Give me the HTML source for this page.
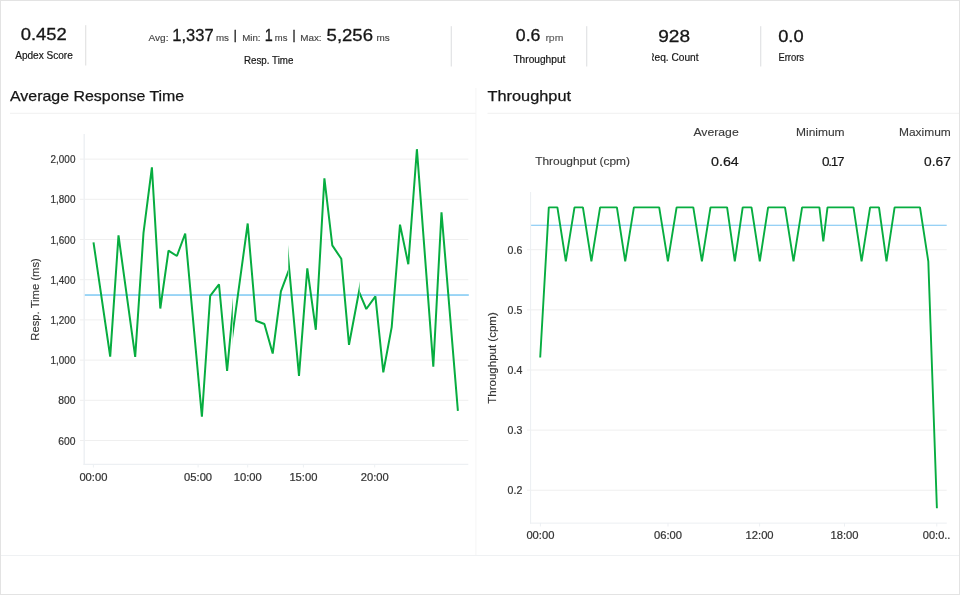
<!DOCTYPE html>
<html lang="en"><head><meta charset="utf-8"><title>Performance Overview</title>
<style>
html,body{margin:0;padding:0;background:#fff;}
body{width:960px;height:595px;overflow:hidden;font-family:"Liberation Sans", Arial, sans-serif;}
svg{display:block;font-family:"Liberation Sans", Arial, sans-serif;}
</style></head><body>
<svg width="960" height="595" viewBox="0 0 960 595">
<rect x="0" y="0" width="960" height="595" fill="#fff"/>
<rect x="0.5" y="0.5" width="959" height="594" fill="none" stroke="#e3e3e3" stroke-width="1"/>
<rect x="85.25" y="25.2" width="1" height="40.3" fill="#dddddd"/>
<rect x="450.75" y="26.2" width="1" height="40.3" fill="#dcdde0"/>
<rect x="586.25" y="26.2" width="1" height="40.3" fill="#dcdde0"/>
<rect x="760.25" y="26.2" width="1" height="40.3" fill="#dcdde0"/>
<rect x="10" y="112.8" width="466" height="1" fill="#f0f0f0"/>
<rect x="487.5" y="112.8" width="471.5" height="1" fill="#f0f0f0"/>
<rect x="475.4" y="88" width="1" height="467.5" fill="#f5f5f5"/>
<rect x="1" y="555" width="958" height="1" fill="#eff1f3"/>
<text x="20.80" y="40.20" font-size="16.5" fill="#161616" stroke="#161616" stroke-width="0.3" textLength="46.00" lengthAdjust="spacingAndGlyphs">0.452</text>
<text x="15.20" y="58.80" font-size="10.8" fill="#161616" stroke="#161616" stroke-width="0.2" textLength="57.60" lengthAdjust="spacingAndGlyphs">Apdex Score</text>
<text x="148.50" y="41.40" font-size="9.8" fill="#444444" stroke="#444444" stroke-width="0.15" textLength="20.00" lengthAdjust="spacingAndGlyphs">Avg:</text>
<text x="172.30" y="41.45" font-size="17.1" fill="#161616" stroke="#161616" stroke-width="0.3" textLength="41.30" lengthAdjust="spacingAndGlyphs">1,337</text>
<text x="216.00" y="41.40" font-size="9.8" fill="#444444" stroke="#444444" stroke-width="0.15" textLength="13.00" lengthAdjust="spacingAndGlyphs">ms</text>
<text x="235.15" y="39.05" font-size="13.6" fill="#2a2a2a" stroke="#2a2a2a" stroke-width="0.3" text-anchor="middle">|</text>
<text x="242.20" y="41.40" font-size="9.8" fill="#444444" stroke="#444444" stroke-width="0.15" textLength="18.30" lengthAdjust="spacingAndGlyphs">Min:</text>
<text x="264.80" y="41.45" font-size="17.1" fill="#161616" stroke="#161616" stroke-width="0.3" textLength="8.00" lengthAdjust="spacingAndGlyphs">1</text>
<text x="274.80" y="41.40" font-size="9.8" fill="#444444" stroke="#444444" stroke-width="0.15" textLength="12.60" lengthAdjust="spacingAndGlyphs">ms</text>
<text x="294.1" y="39.05" font-size="13.6" fill="#2a2a2a" stroke="#2a2a2a" stroke-width="0.3" text-anchor="middle">|</text>
<text x="300.20" y="41.40" font-size="9.8" fill="#444444" stroke="#444444" stroke-width="0.15" textLength="21.40" lengthAdjust="spacingAndGlyphs">Max:</text>
<text x="326.60" y="41.45" font-size="17.1" fill="#161616" stroke="#161616" stroke-width="0.3" textLength="46.40" lengthAdjust="spacingAndGlyphs">5,256</text>
<text x="376.40" y="41.40" font-size="9.8" fill="#444444" stroke="#444444" stroke-width="0.15" textLength="13.20" lengthAdjust="spacingAndGlyphs">ms</text>
<text x="244.00" y="63.50" font-size="10.6" fill="#161616" stroke="#161616" stroke-width="0.2" textLength="49.40" lengthAdjust="spacingAndGlyphs">Resp. Time</text>
<text x="515.80" y="41.40" font-size="17.2" fill="#161616" stroke="#161616" stroke-width="0.3" textLength="24.70" lengthAdjust="spacingAndGlyphs">0.6</text>
<text x="545.40" y="41.30" font-size="9.2" fill="#666666" stroke="#666666" stroke-width="0.2" textLength="18.00" lengthAdjust="spacingAndGlyphs">rpm</text>
<text x="513.40" y="63.30" font-size="10" fill="#161616" stroke="#161616" stroke-width="0.2" textLength="52.00" lengthAdjust="spacingAndGlyphs">Throughput</text>
<text x="658.20" y="41.90" font-size="17.2" fill="#161616" stroke="#161616" stroke-width="0.3" textLength="31.80" lengthAdjust="spacingAndGlyphs">928</text>
<clipPath id="cR"><rect x="652" y="45" width="60" height="25"/></clipPath>
<g clip-path="url(#cR)"><text x="647.20" y="60.60" font-size="10.8" fill="#161616" stroke="#161616" stroke-width="0.2" textLength="51.40" lengthAdjust="spacingAndGlyphs">Req. Count</text></g>
<text x="778.20" y="41.90" font-size="17.2" fill="#161616" stroke="#161616" stroke-width="0.3" textLength="25.40" lengthAdjust="spacingAndGlyphs">0.0</text>
<text x="778.40" y="60.70" font-size="10.8" fill="#161616" stroke="#161616" stroke-width="0.2" textLength="25.70" lengthAdjust="spacingAndGlyphs">Errors</text>
<text x="10.00" y="101.00" font-size="15" fill="#161616" stroke="#161616" stroke-width="0.25" textLength="174.20" lengthAdjust="spacingAndGlyphs">Average Response Time</text>
<text x="487.60" y="101.00" font-size="15" fill="#161616" stroke="#161616" stroke-width="0.25" textLength="83.40" lengthAdjust="spacingAndGlyphs">Throughput</text>
<text x="693.40" y="136.30" font-size="11.5" fill="#3a3a3a" stroke="#3a3a3a" stroke-width="0.12" textLength="45.30" lengthAdjust="spacingAndGlyphs">Average</text>
<text x="796.00" y="136.30" font-size="11.5" fill="#3a3a3a" stroke="#3a3a3a" stroke-width="0.12" textLength="48.60" lengthAdjust="spacingAndGlyphs">Minimum</text>
<text x="899.00" y="136.30" font-size="11.5" fill="#3a3a3a" stroke="#3a3a3a" stroke-width="0.12" textLength="51.80" lengthAdjust="spacingAndGlyphs">Maximum</text>
<text x="535.20" y="164.50" font-size="11.8" fill="#3a3a3a" stroke="#3a3a3a" stroke-width="0.15" textLength="94.80" lengthAdjust="spacingAndGlyphs">Throughput (cpm)</text>
<text x="711.00" y="166.20" font-size="13.5" fill="#161616" stroke="#161616" stroke-width="0.2" textLength="27.80" lengthAdjust="spacingAndGlyphs">0.64</text>
<text x="822.00" y="166.20" font-size="13.5" fill="#161616" stroke="#161616" stroke-width="0.2" textLength="22.60" lengthAdjust="spacing">0.17</text>
<text x="924.00" y="166.20" font-size="13.5" fill="#161616" stroke="#161616" stroke-width="0.2" textLength="26.80" lengthAdjust="spacingAndGlyphs">0.67</text>
<rect x="80" y="158.60" width="388.3" height="1" fill="#efefef"/>
<text x="50.60" y="163.10" font-size="11.3" fill="#333333" stroke="#333333" stroke-width="0.22" textLength="24.80" lengthAdjust="spacingAndGlyphs">2,000</text>
<rect x="80" y="198.80" width="388.3" height="1" fill="#efefef"/>
<text x="50.60" y="203.30" font-size="11.3" fill="#333333" stroke="#333333" stroke-width="0.22" textLength="24.80" lengthAdjust="spacingAndGlyphs">1,800</text>
<rect x="80" y="239.00" width="388.3" height="1" fill="#efefef"/>
<text x="50.60" y="243.50" font-size="11.3" fill="#333333" stroke="#333333" stroke-width="0.22" textLength="24.80" lengthAdjust="spacingAndGlyphs">1,600</text>
<rect x="80" y="279.20" width="388.3" height="1" fill="#efefef"/>
<text x="50.60" y="283.70" font-size="11.3" fill="#333333" stroke="#333333" stroke-width="0.22" textLength="24.80" lengthAdjust="spacingAndGlyphs">1,400</text>
<rect x="80" y="319.40" width="388.3" height="1" fill="#efefef"/>
<text x="50.60" y="323.90" font-size="11.3" fill="#333333" stroke="#333333" stroke-width="0.22" textLength="24.80" lengthAdjust="spacingAndGlyphs">1,200</text>
<rect x="80" y="359.60" width="388.3" height="1" fill="#efefef"/>
<text x="50.60" y="364.10" font-size="11.3" fill="#333333" stroke="#333333" stroke-width="0.22" textLength="24.80" lengthAdjust="spacingAndGlyphs">1,000</text>
<rect x="80" y="399.80" width="388.3" height="1" fill="#efefef"/>
<text x="58.20" y="404.30" font-size="11.3" fill="#333333" stroke="#333333" stroke-width="0.22" textLength="17.20" lengthAdjust="spacingAndGlyphs">800</text>
<rect x="80" y="440.00" width="388.3" height="1" fill="#efefef"/>
<text x="58.20" y="444.50" font-size="11.3" fill="#333333" stroke="#333333" stroke-width="0.22" textLength="17.20" lengthAdjust="spacingAndGlyphs">600</text>
<rect x="83.5" y="134" width="1.4" height="331" fill="#edf0f3"/>
<rect x="83.5" y="463.75" width="384.8" height="1.2" fill="#edf0f3"/>
<rect x="92.90" y="464" width="1" height="3.5" fill="#edf0f3"/>
<text x="79.40" y="481.10" font-size="11.3" fill="#333333" stroke="#333333" stroke-width="0.22" textLength="28.00" lengthAdjust="spacingAndGlyphs">00:00</text>
<rect x="197.60" y="464" width="1" height="3.5" fill="#edf0f3"/>
<text x="184.10" y="481.10" font-size="11.3" fill="#333333" stroke="#333333" stroke-width="0.22" textLength="28.00" lengthAdjust="spacingAndGlyphs">05:00</text>
<rect x="247.20" y="464" width="1" height="3.5" fill="#edf0f3"/>
<text x="233.70" y="481.10" font-size="11.3" fill="#333333" stroke="#333333" stroke-width="0.22" textLength="28.00" lengthAdjust="spacingAndGlyphs">10:00</text>
<rect x="302.90" y="464" width="1" height="3.5" fill="#edf0f3"/>
<text x="289.40" y="481.10" font-size="11.3" fill="#333333" stroke="#333333" stroke-width="0.22" textLength="28.00" lengthAdjust="spacingAndGlyphs">15:00</text>
<rect x="374.20" y="464" width="1" height="3.5" fill="#edf0f3"/>
<text x="360.70" y="481.10" font-size="11.3" fill="#333333" stroke="#333333" stroke-width="0.22" textLength="28.00" lengthAdjust="spacingAndGlyphs">20:00</text>
<text transform="translate(38.9,299.4) rotate(-90)" text-anchor="middle" font-size="11.8" fill="#333333" stroke="#333333" stroke-width="0.15" textLength="82.5" lengthAdjust="spacingAndGlyphs">Resp. Time (ms)</text>
<rect x="84.8" y="294.1" width="384" height="1.9" fill="#98d4f6"/>
<clipPath id="cl0"><rect x="80" y="130" width="152.8" height="340"/></clipPath>
<g clip-path="url(#cl0)"><polyline points="93.5,242.3 110.2,356.6 118.5,235.4 135.2,356.9 143.5,232.9 151.9,167.3 160.3,308.5 168.5,250.7 176.9,256.0 185.2,233.5 201.9,416.7 210.2,295.8 219.0,284.4 227.1,370.8 234.0,297.0" fill="none" stroke="#07ad40" stroke-width="2" stroke-linejoin="bevel" stroke-linecap="butt"/></g>
<clipPath id="cl1"><rect x="232.8" y="130" width="55.5" height="340"/></clipPath>
<g clip-path="url(#cl1)"><polyline points="231.0,345.5 247.7,223.5 256.0,320.8 264.4,324.0 272.7,353.5 280.9,291.3 288.3,271.7 290.0,266.5" fill="none" stroke="#07ad40" stroke-width="2" stroke-linejoin="bevel" stroke-linecap="butt"/></g>
<clipPath id="cl2"><rect x="288.3" y="130" width="71.30000000000001" height="340"/></clipPath>
<g clip-path="url(#cl2)"><polyline points="286.0,234.0 299.0,375.8 307.3,268.3 315.8,329.8 324.4,178.3 332.3,245.4 341.3,258.8 349.0,344.8 359.4,289.5 361.0,281.0" fill="none" stroke="#07ad40" stroke-width="2" stroke-linejoin="bevel" stroke-linecap="butt"/></g>
<clipPath id="cl3"><rect x="359.6" y="130" width="112.39999999999998" height="340"/></clipPath>
<g clip-path="url(#cl3)"><polyline points="357.0,287.0 366.3,309.0 375.4,296.3 383.3,372.3 391.7,327.1 400.0,224.6 408.3,264.2 416.9,149.2 433.3,366.6 441.5,212.3 457.9,410.8" fill="none" stroke="#07ad40" stroke-width="2" stroke-linejoin="bevel" stroke-linecap="butt"/></g>
<rect x="527" y="249.22" width="419.7" height="1" fill="#efefef"/>
<text x="507.60" y="253.72" font-size="11.3" fill="#333333" stroke="#333333" stroke-width="0.22" textLength="14.70" lengthAdjust="spacingAndGlyphs">0.6</text>
<rect x="527" y="309.35" width="419.7" height="1" fill="#efefef"/>
<text x="507.60" y="313.85" font-size="11.3" fill="#333333" stroke="#333333" stroke-width="0.22" textLength="14.70" lengthAdjust="spacingAndGlyphs">0.5</text>
<rect x="527" y="369.48" width="419.7" height="1" fill="#efefef"/>
<text x="507.60" y="373.98" font-size="11.3" fill="#333333" stroke="#333333" stroke-width="0.22" textLength="14.70" lengthAdjust="spacingAndGlyphs">0.4</text>
<rect x="527" y="429.61" width="419.7" height="1" fill="#efefef"/>
<text x="507.60" y="434.11" font-size="11.3" fill="#333333" stroke="#333333" stroke-width="0.22" textLength="14.70" lengthAdjust="spacingAndGlyphs">0.3</text>
<rect x="527" y="489.74" width="419.7" height="1" fill="#efefef"/>
<text x="507.60" y="494.24" font-size="11.3" fill="#333333" stroke="#333333" stroke-width="0.22" textLength="14.70" lengthAdjust="spacingAndGlyphs">0.2</text>
<rect x="530.0" y="192" width="1.1" height="331.5" fill="#edf0f3"/>
<rect x="530.0" y="522.6" width="416.8" height="1.05" fill="#edf0f3"/>
<rect x="539.90" y="523" width="1" height="3.5" fill="#edf0f3"/>
<text x="526.40" y="539.20" font-size="11.3" fill="#333333" stroke="#333333" stroke-width="0.22" textLength="28.00" lengthAdjust="spacingAndGlyphs">00:00</text>
<rect x="667.50" y="523" width="1" height="3.5" fill="#edf0f3"/>
<text x="654.00" y="539.20" font-size="11.3" fill="#333333" stroke="#333333" stroke-width="0.22" textLength="28.00" lengthAdjust="spacingAndGlyphs">06:00</text>
<rect x="759.10" y="523" width="1" height="3.5" fill="#edf0f3"/>
<text x="745.60" y="539.20" font-size="11.3" fill="#333333" stroke="#333333" stroke-width="0.22" textLength="28.00" lengthAdjust="spacingAndGlyphs">12:00</text>
<rect x="844.00" y="523" width="1" height="3.5" fill="#edf0f3"/>
<text x="830.50" y="539.20" font-size="11.3" fill="#333333" stroke="#333333" stroke-width="0.22" textLength="28.00" lengthAdjust="spacingAndGlyphs">18:00</text>
<rect x="936.3" y="523" width="1" height="3.5" fill="#edf0f3"/>
<text x="922.80" y="539.20" font-size="11.3" fill="#333333" stroke="#333333" stroke-width="0.22" textLength="27.60" lengthAdjust="spacingAndGlyphs">00:0..</text>
<text transform="translate(496.4,358) rotate(-90)" text-anchor="middle" font-size="11.8" fill="#333333" stroke="#333333" stroke-width="0.15" textLength="91.5" lengthAdjust="spacingAndGlyphs">Throughput (cpm)</text>
<rect x="531.1" y="224.7" width="415.6" height="1.2" fill="#8ccdf4"/>
<polyline points="540.2,357.5 548.8,207.4 557.4,207.4 565.8,261.3 574.5,207.4 582.9,207.4 591.4,261.3 600.1,207.4 616.9,207.4 625.2,261.3 633.9,207.4 659.2,207.4 667.9,261.3 676.6,207.4 693.3,207.4 701.9,261.3 710.5,207.4 727.1,207.4 734.8,261.3 742.7,207.4 751.5,207.4 759.8,261.3 768.1,207.4 785.0,207.4 793.5,261.3 802.1,207.4 819.4,207.4 823.3,241.5 827.5,207.4 853.5,207.4 861.6,261.3 870.1,207.4 879.0,207.4 886.5,261.3 894.6,207.4 920.0,207.4 928.3,261.3 936.9,508.2" fill="none" stroke="#07ad40" stroke-width="1.9" stroke-linejoin="bevel" stroke-linecap="butt"/>
</svg></body></html>
